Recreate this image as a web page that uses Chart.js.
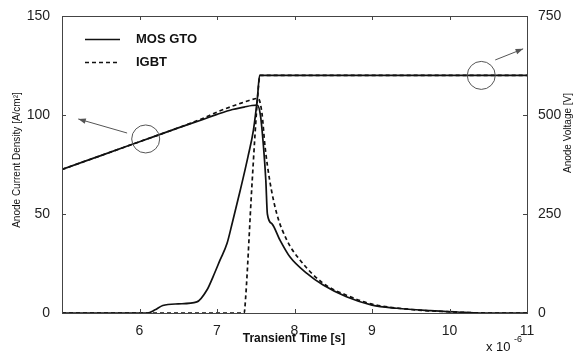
<!DOCTYPE html>
<html>
<head>
<meta charset="utf-8">
<script src="https://cdn.jsdelivr.net/npm/chart.js@4.4.0/dist/chart.umd.min.js"></script>
<style>
html,body{margin:0;padding:0;background:#fff}
</style>
</head>
<body>
<canvas id="grafico" width="573" height="354"></canvas>
<script>
// tiempo en unidades de 1e-6 s
// corriente anodica [A/cm2] - eje izquierdo
let t_cur_gto = [5, 5.5, 6, 6.5, 6.8, 7.0, 7.2, 7.35, 7.45, 7.52, 7.56, 7.6, 7.63, 7.65, 7.71, 7.81, 7.94, 8.16, 8.37, 8.67, 9.0, 9.32, 9.75, 10.1, 10.4, 11]
let cur_gto = [72.5, 79.5, 86.5, 93.5, 97.5, 100.3, 102.8, 104, 104.8, 105, 100, 84, 67, 50, 45, 37, 28.4, 20, 14.1, 8.2, 4, 2.4, 1.2, 0.5, 0, 0]

let t_cur_igbt = [5, 6, 6.8, 7.0, 7.2, 7.35, 7.45, 7.53, 7.58, 7.62, 7.68, 7.77, 7.9, 8.07, 8.37, 8.67, 9.0, 9.5, 10.0, 10.5, 11]
let cur_igbt = [72.5, 86.5, 98, 101.5, 104.5, 106.5, 107.8, 108.4, 100.9, 84, 67, 50.3, 36.9, 26.8, 15, 9, 4.5, 1.8, 0.6, 0, 0]

// tension anodica [V] - eje derecho
let t_volt_gto = [5, 6.1, 6.2, 6.3, 6.5, 6.74, 6.87, 6.95, 7.04, 7.13, 7.2, 7.3, 7.4, 7.47, 7.52, 7.55, 11]
let volt_gto = [0, 0, 8, 19, 23, 28, 58, 92, 134, 176, 230, 310, 395, 462, 540, 600, 600]

let t_volt_igbt = [5, 7.35, 7.37, 7.45, 7.53, 7.555, 11]
let volt_igbt = [0, 0, 40, 320, 560, 600, 600]

let etiquetas = ['MOS GTO', 'IGBT']
let ticks_x = [5, 6, 7, 8, 9, 10, 11]
let ticks_izq = [0, 50, 100, 150]
let ticks_der = [0, 250, 500, 750]

// circulos + flechas (coordenadas de datos, eje indicado)
let marcas = [
    {eje: 'y', cx: 6.08, cy: 87.9, desde: [5.84, 90.9], hasta: [5.21, 98]},
    {eje: 'y1', cx: 10.41, cy: 600, desde: [10.59, 639], hasta: [10.95, 667]},
]


function puntos(t, v){
    return t.map((x, i) => ({x: x, y: v[i]}))
}


function flecha(ctx, x1, y1, x2, y2){
    let ang = Math.atan2(y2 - y1, x2 - x1)
    ctx.beginPath()
    ctx.moveTo(x1, y1)
    ctx.lineTo(x2, y2)
    ctx.stroke()
    ctx.beginPath()
    ctx.moveTo(x2, y2)
    ctx.lineTo(x2 - 8 * Math.cos(ang - 0.35), y2 - 8 * Math.sin(ang - 0.35))
    ctx.lineTo(x2 - 8 * Math.cos(ang + 0.35), y2 - 8 * Math.sin(ang + 0.35))
    ctx.closePath()
    ctx.fill()
}


/*
    ||=====================================================
    || PLUGIN - marco estilo matlab, leyenda, anotaciones
    ||=====================================================
*/
let plugin_marco = {
    id: 'marco',
    afterDatasetsDraw(chart){
        let ctx = chart.ctx
        let a = chart.chartArea
        let sx = chart.scales.x
        let sy = chart.scales.y
        let sy1 = chart.scales.y1
        ctx.save()

        // anotaciones
        ctx.strokeStyle = '#555'
        ctx.fillStyle = '#555'
        ctx.lineWidth = 1
        marcas.forEach(m => {
            let esc = chart.scales[m.eje]
            ctx.beginPath()
            ctx.arc(sx.getPixelForValue(m.cx), esc.getPixelForValue(m.cy), 14, 0, Math.PI * 2)
            ctx.stroke()
            flecha(ctx,
                sx.getPixelForValue(m.desde[0]), esc.getPixelForValue(m.desde[1]),
                sx.getPixelForValue(m.hasta[0]), esc.getPixelForValue(m.hasta[1]))
        })

        // marco + ticks hacia dentro
        ctx.strokeStyle = '#444'
        ctx.lineWidth = 1
        ctx.strokeRect(a.left + 0.5, a.top + 0.5, a.right - a.left, a.bottom - a.top)
        ctx.beginPath()
        ticks_x.forEach(v => {
            let px = Math.round(sx.getPixelForValue(v)) + 0.5
            ctx.moveTo(px, a.bottom); ctx.lineTo(px, a.bottom - 4)
            ctx.moveTo(px, a.top); ctx.lineTo(px, a.top + 4)
        })
        ticks_izq.forEach(v => {
            let py = Math.round(sy.getPixelForValue(v)) + 0.5
            ctx.moveTo(a.left, py); ctx.lineTo(a.left + 4, py)
        })
        ticks_der.forEach(v => {
            let py = Math.round(sy1.getPixelForValue(v)) + 0.5
            ctx.moveTo(a.right, py); ctx.lineTo(a.right - 4, py)
        })
        ctx.stroke()

        // leyenda
        let estilos = [[], [4, 3]]
        ctx.fillStyle = '#111'
        ctx.strokeStyle = '#111'
        ctx.font = 'bold 13px "Liberation Sans", Arial, sans-serif'
        ctx.textBaseline = 'middle'
        etiquetas.forEach((txt, i) => {
            let y = a.top + 23.5 + i * 23
            ctx.lineWidth = 1.5
            ctx.setLineDash(estilos[i])
            ctx.beginPath()
            ctx.moveTo(a.left + 23, y)
            ctx.lineTo(a.left + 58, y)
            ctx.stroke()
            ctx.setLineDash([])
            ctx.fillText(txt, a.left + 74, y)
        })

        // titulos de ejes
        ctx.font = '10px "Liberation Sans", Arial, sans-serif'
        ctx.textAlign = 'center'
        ctx.save()
        ctx.translate(17, 160)
        ctx.rotate(-Math.PI / 2)
        ctx.fillText('Anode Current Density [A/cm\u00b2]', 0, 0)
        ctx.restore()
        ctx.save()
        ctx.translate(568, 133)
        ctx.rotate(-Math.PI / 2)
        ctx.fillText('Anode Voltage [V]', 0, 0)
        ctx.restore()

        ctx.font = 'bold 12px "Liberation Sans", Arial, sans-serif'
        ctx.fillText('Transient Time [s]', 294, 339)
        ctx.textAlign = 'left'
        ctx.font = '13px "Liberation Sans", Arial, sans-serif'
        ctx.fillText('x 10', 486, 347)
        ctx.font = '9px "Liberation Sans", Arial, sans-serif'
        ctx.fillText('-6', 514, 340)
        ctx.restore()
    }
}


let fuente_ticks = {family: '"Liberation Sans", Arial, sans-serif', size: 14}

let configuracion = {
    type: 'line',
    data: {
        datasets: [
            {label: etiquetas[0], data: puntos(t_cur_gto, cur_gto), yAxisID: 'y', borderColor: '#111', borderWidth: 1.7},
            {label: etiquetas[1], data: puntos(t_cur_igbt, cur_igbt), yAxisID: 'y', borderColor: '#111', borderWidth: 1.7, borderDash: [4, 3]},
            {label: etiquetas[0] + ' V', data: puntos(t_volt_gto, volt_gto), yAxisID: 'y1', borderColor: '#111', borderWidth: 1.7},
            {label: etiquetas[1] + ' V', data: puntos(t_volt_igbt, volt_igbt), yAxisID: 'y1', borderColor: '#111', borderWidth: 1.7, borderDash: [4, 3]},
        ]
    },
    options: {
        responsive: false,
        animation: false,
        devicePixelRatio: 1,
        elements: {point: {radius: 0}, line: {cubicInterpolationMode: 'monotone'}},
        layout: {padding: {top: 16, left: 0, right: 0, bottom: 0}},
        plugins: {legend: {display: false}, tooltip: {enabled: false}},
        scales: {
            x: {
                type: 'linear', min: 5, max: 11,
                afterBuildTicks: s => { s.ticks = ticks_x.map(v => ({value: v})) },
                afterFit: s => { s.height = 41 },
                grid: {display: false},
                border: {display: false},
                ticks: {font: fuente_ticks, color: '#222', padding: 2, maxRotation: 0,
                    callback: v => v == 5 ? '' : v}
            },
            y: {
                position: 'left', min: 0, max: 150,
                afterBuildTicks: s => { s.ticks = ticks_izq.map(v => ({value: v})) },
                afterFit: s => { s.width = 62 },
                grid: {display: false},
                border: {display: false},
                ticks: {font: fuente_ticks, color: '#222', padding: 4}
            },
            y1: {
                position: 'right', min: 0, max: 750,
                afterBuildTicks: s => { s.ticks = ticks_der.map(v => ({value: v})) },
                afterFit: s => { s.width = 46 },
                grid: {display: false},
                border: {display: false},
                ticks: {font: fuente_ticks, color: '#222', padding: 3}
            }
        }
    },
    plugins: [plugin_marco]
}

let ctx = document.getElementById('grafico').getContext('2d')
let grafico = new Chart(ctx, configuracion)
</script>
</body>
</html>
